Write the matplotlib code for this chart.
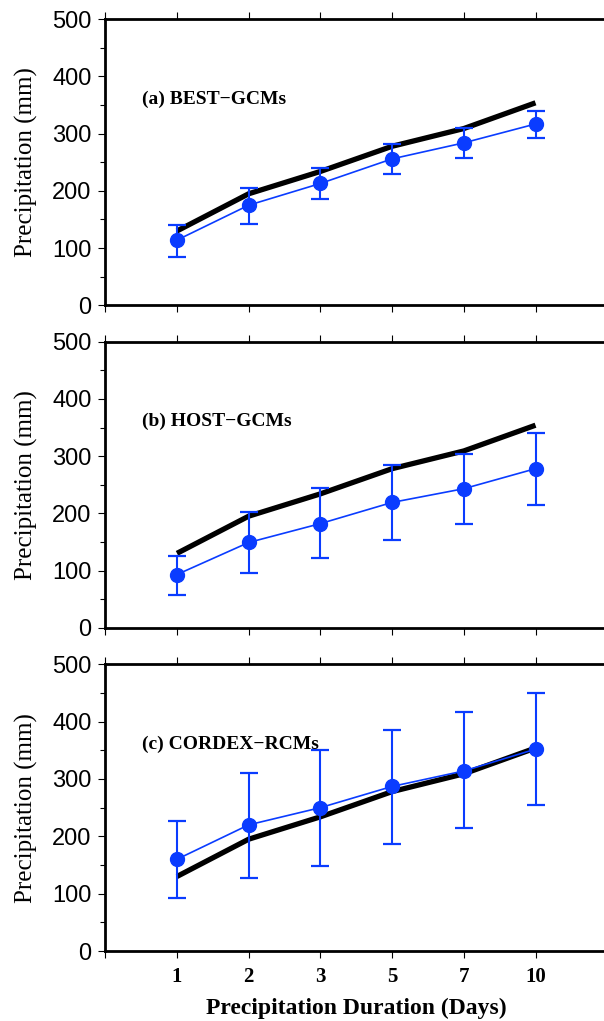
import matplotlib
matplotlib.use("Agg")
import matplotlib.pyplot as plt
from matplotlib.ticker import MultipleLocator

# precipitation duration categories (days)
durations = ["1", "2", "3", "5", "7", "10"]

# observed reference (black line), same in every panel
obs = [130, 195, 234, 278, 309, 354]

# model ensemble mean with lower / upper error bar ends
best_mean = [114, 175, 213, 256, 284, 317]
best_lo = [85, 143, 185, 230, 258, 293]
best_hi = [140, 205, 240, 282, 310, 340]

host_mean = [93, 149, 182, 219, 243, 278]
host_lo = [58, 95, 121, 153, 182, 215]
host_hi = [126, 202, 245, 284, 304, 340]

cordex_mean = [160, 220, 250, 287, 314, 352]
cordex_lo = [92, 128, 149, 187, 215, 254]
cordex_hi = [227, 311, 351, 386, 416, 450]

panel_titles = ["(a) BEST\u2212GCMs", "(b) HOST\u2212GCMs", "(c) CORDEX\u2212RCMs"]

blue = "#0a3cff"
serif = ["Liberation Serif", "DejaVu Serif"]
sans = ["Liberation Sans", "DejaVu Sans"]

fig = plt.figure(figsize=(6.04, 10.21), dpi=100)

# axes boxes in pixels: (top, bottom)
boxes = [(19.3, 305.3), (341.7, 627.7), (664.3, 951.0)]
left_px, right_px = 105.3, 607.2
W, H = 604.0, 1021.0

panels = [
    (best_mean, best_lo, best_hi),
    (host_mean, host_lo, host_hi),
    (cordex_mean, cordex_lo, cordex_hi),
]

x = list(range(1, len(durations) + 1))

for i, ((top, bot), (mean, lo, hi)) in enumerate(zip(boxes, panels)):
    ax = fig.add_axes([left_px / W, 1 - bot / H,
                       (right_px - left_px) / W, (bot - top) / H])

    ax.plot(x, obs, color="black", lw=3.8, solid_capstyle="butt", zorder=2)
    yerr = [[m - l for m, l in zip(mean, lo)], [h - m for m, h in zip(mean, hi)]]
    ax.errorbar(x, mean, yerr=yerr, color=blue, lw=1.2, marker="o", ms=10,
                elinewidth=1.5, capsize=6.7, capthick=1.6, zorder=3)

    ax.set_xlim(0, 7)
    ax.set_ylim(0, 500)
    ax.set_xticks([0] + x)
    ax.yaxis.set_major_locator(MultipleLocator(100))
    ax.yaxis.set_minor_locator(MultipleLocator(50))

    for s in ax.spines.values():
        s.set_linewidth(2.0)

    ax.tick_params(axis="x", which="major", direction="out", length=5,
                   width=0.8, top=True, bottom=True, pad=6.5)
    ax.tick_params(axis="y", which="major", direction="out", length=5,
                   width=0.8, pad=5, right=False)
    ax.tick_params(axis="y", which="minor", direction="out", length=3.3,
                   width=0.8, right=False)

    for lab in ax.get_yticklabels():
        lab.set_family(sans)
        lab.set_fontsize(17)

    if i == 2:
        ax.set_xticklabels([""] + durations, family=serif, fontsize=15,
                           fontweight="bold")
        ax.set_xlabel("Precipitation Duration (Days)", family=serif,
                      fontsize=17, fontweight="bold")
        ax.xaxis.set_label_coords(0.5, -0.163)
    else:
        ax.set_xticklabels([])

    ax.set_ylabel("Precipitation (mm)", family=serif, fontsize=18)
    ax.yaxis.set_label_coords(-0.134, 0.5)

    ax.text(0.51, 360, panel_titles[i], family=serif, fontsize=14,
            fontweight="bold", ha="left", va="center")

fig.savefig("out.png", dpi=100)
